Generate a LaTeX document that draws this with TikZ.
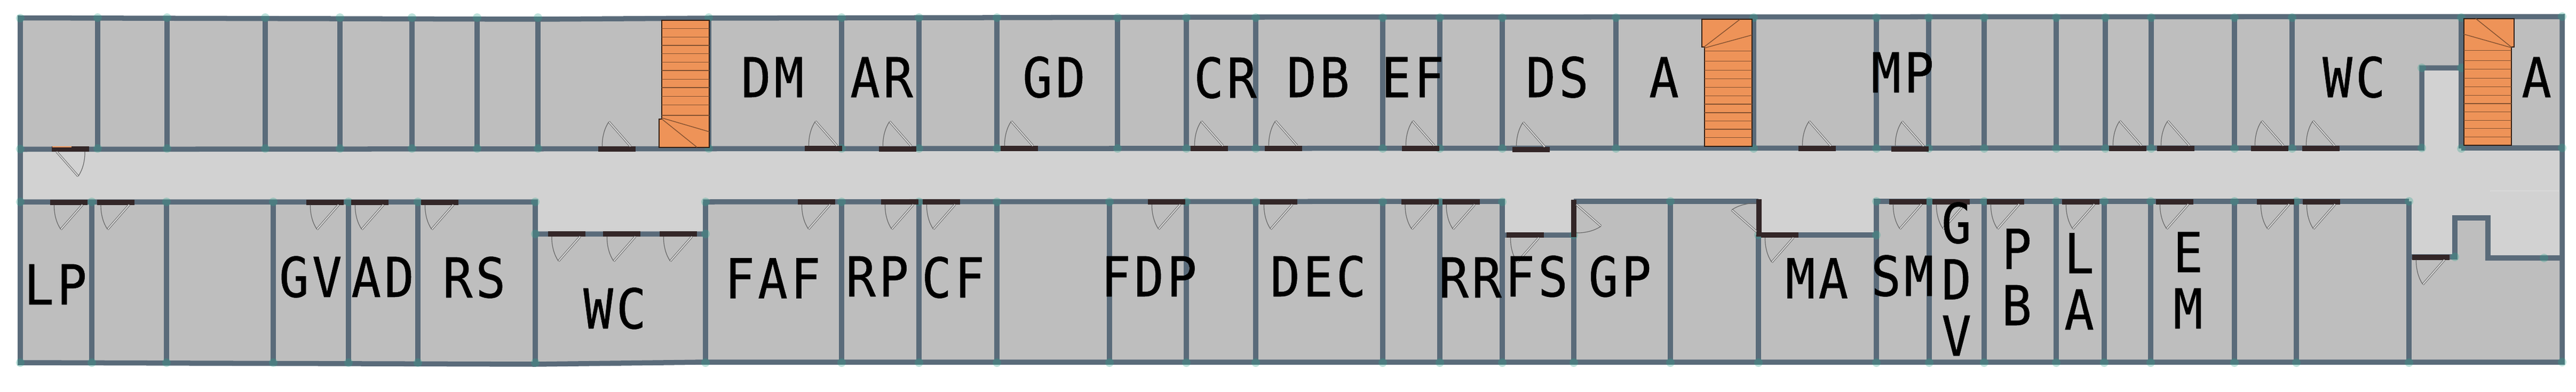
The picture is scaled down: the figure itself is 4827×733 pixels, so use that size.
\documentclass[tikz,border=0pt]{standalone}
\usepackage{fontspec}
\newfontfamily\roomfont[FakeStretch=0.9,LetterSpace=5.8,FakeBold=0.5]{DejaVu Sans Mono}
\definecolor{roomgrey}{HTML}{BEBEBE}
\definecolor{hallgrey}{HTML}{D2D2D2}
\definecolor{wallblue}{HTML}{5A6B7A}
\definecolor{stairorange}{HTML}{EE9358}
\definecolor{doorblack}{HTML}{332627}
\definecolor{handleteal}{HTML}{2EA58F}
\tikzset{
    wall/.style={wallblue, line width=0.095cm},
    handle/.style={handleteal, opacity=0.3},
    stairs/.style={draw=black!80!stairorange, fill=stairorange, line width=0.02cm},
    tread/.style={draw=black!45!stairorange, line width=0.014cm},
    room/.style={font=\roomfont\fontsize{29.3}{29.6}\selectfont, inner sep=0pt, anchor=base, align=center},
    pics/door/.style={code={
        \fill[doorblack] (-35,-5) rectangle (35,5);
        \draw[draw=black!60, line width=0.01cm, double=black!15, double distance=0.02cm] (25.5,-5) -- (-15,-51);
        \draw[black!60, line width=0.012cm] (-15,-51) .. controls (-23,-40) and (-28,-22) .. (-27.5,-5);
    }},
}

\begin{document}
\begin{tikzpicture}[x=0.01cm, y=-0.01cm]
    \useasboundingbox (0,0) rectangle (4827,733);

    % Floors
    \fill[roomgrey] (38,33) -- (1008,36) -- (1328,34) -- (2353,32) -- (4801,31) -- (4801,678) -- (1322,678) -- (1003,682) -- (38,679) -- cycle;
    \fill[hallgrey] (38,279) -- (1328,278) -- (4538,277) -- (4538,127) -- (4612,127) -- (4612,277) -- (4801,277)
        -- (4801,483) -- (4662,483) -- (4662,408) -- (4600,408) -- (4600,481) -- (4514,481) -- (4514,377)
        -- (3516,377) -- (3516,440) -- (3295,440) -- (3295,377) -- (2949,377) -- (2949,440) -- (2815,440) -- (2815,377)
        -- (1322,378) -- (1322,438) -- (1003,438) -- (1003,378) -- (38,378) -- cycle;
    \draw[black!12, line width=0.01cm] (4666,357) -- (4795,357);

    % Long walls
    \draw[wall, line cap=rect] (38,33.5) -- (1008,36) -- (1328,34) -- (2353,32) -- (4801,31) -- (4801,678) -- (1322,678) -- (1003,682) -- (38,679) -- cycle;
    \draw[wall] (38,279.5) -- (1328,278.5) -- (2815,277.5) -- (4538,277) -- (4538,127) -- (4612,127);
    \draw[wall] (4612,277) -- (4801,277);
    \draw[wall] (38,378) -- (1003,378) -- (1003,438) -- (1322,438) -- (1322,378) -- (2815,377) -- (2815,440) -- (2949,440);
    \draw[wall] (2949,377) -- (3295,377);
    \draw[wall] (3295,440) -- (3516,440) -- (3516,377) -- (4514,377);
    \draw[wall] (4514,481) -- (4600,481) -- (4600,408) -- (4662,408) -- (4662,483) -- (4801,483);

    % Cross walls, top row
    \foreach \x in {183,313,497,637,772,894,1008,1328,1577,1722,1868,2094,2223,2353,2591,2698,2815,3028,3286,3516,3614,3718,3853,3945,4031,4187,4295,4612} {
        \draw[wall] (\x,33) -- (\x,278);
        \fill[handle] (\x,33) circle (8);
        \fill[handle] (\x,278) circle (8);
    }

    % Cross walls, bottom row
    \foreach \x/\y in {172/378,312/378,512/378,653/378,783/378,1003/378,1322/378,1577/378,1722/378,1868/378,2079/378,2223/378,2353/378,2591/378,2698/378,2815/378,2949/440,3130/377,3295/440,3516/377,3615/377,3718/377,3853/377,3943/377,4030/377,4187/377,4303/377,4514/377} {
        \draw[wall] (\x,\y) -- (\x,679);
        \fill[handle] (\x,\y) circle (8);
        \fill[handle] (\x,679) circle (8);
    }

    % Wall corners
    \foreach \p in {(38,34),(38,279),(38,378),(38,679),(4801,31),(4801,277),(4801,678),(4538,127),(4612,127),(4538,277),(4600,481),(1003,438),(1322,438),(3516,440),(4767,483)} {
        \fill[handle] \p circle (8);
    }

    % Stairs, left
    \draw[stairs] (1239.5,38) -- (1329,38) -- (1329,275.7) -- (1235,275.7) -- (1235,222.7) -- (1239.5,222.7) -- cycle;
    \foreach \y in {53.7,69.3,85,100.7,116.3,132,148.3,164,180.3,196.7,216} {
        \draw[tread] (1239.5,\y) -- (1329,\y);
    }
    \draw[tread] (1240,220.7) -- (1329,246.7);
    \draw[tread] (1240,222.7) -- (1306,275.7);

    % Stairs, middle
    \draw[stairs] (3188.6,36) -- (3283,36) -- (3283,273.5) -- (3193.5,273.5) -- (3193.5,88) -- (3188.6,88) -- cycle;
    \foreach \y in {95.4,114.5,131.4,147.7,163.6,179.5,195,210.8,226.7,242,257.6} {
        \draw[tread] (3193.5,\y) -- (3283,\y);
    }
    \draw[tread] (3193.5,90) -- (3283,65.5);
    \draw[tread] (3193,88) -- (3260,36.5);

    % Stairs, right
    \draw[stairs] (4616.7,34.7) -- (4710.7,34.7) -- (4710.7,87.7) -- (4706,87.7) -- (4706,272.3) -- (4616.7,272.3) -- cycle;
    \foreach \y in {94.3,113.7,129.7,146.3,162.3,178.3,194,209.7,225.7,240.7,256.3} {
        \draw[tread] (4616.7,\y) -- (4706,\y);
    }
    \draw[tread] (4616.7,64) -- (4706,89.3);
    \draw[tread] (4706,88.3) -- (4639,34.7);

    % Doors opening upwards
    \foreach \x/\y in {1156/279,1543/278,1682/278.5,1910/278,2266/278,2405/277.5,2662/277.5,2869/280,3405/278,3579/278.5,3987/277.5,4077/277.5,4253/277.5,4349/277.5} {
        \pic at (\x,\y) {door};
    }

    % Doors opening downwards
    \foreach \x/\y in {129/378.5,216.6/378.5,609/378.5,693/378.5,824/378.5,1530/378,1686/378,1764/378,2186/378,2396/378,2660.5/378,2737.7/378,3575/377.5,3656/377.5,3758/377.5,3899/377.5,4075/377.5,4264/377.5,4350/377.5,1061.5/438,1165/438,1271/438,2858/440,3335/440,4555/481.5} {
        \pic[yscale=-1] at (\x,\y) {door};
    }

    % Odd doors
    \pic[rotate=180] at (131.5,279) {door};
    \fill[stairorange] (98,274) rectangle (134,275.5);
    \pic[rotate=90, yscale=-1] at (2949,408.5) {door};
    \pic[rotate=-90, yscale=-1] at (3296,408) {door};

    % Top row labels
    \node[room] (dm) at (1447.5,182) {DM};
    \node[room] (ar) at (1652,182) {AR};
    \node[room] (gd) at (1975,182) {GD};
    \node[room] (cr) at (2296,183) {CR};
    \node[room] (db) at (2470,182) {DB};
    \node[room] (ef) at (2647,182) {EF};
    \node[room] (ds) at (2918,182) {DS};
    \node[room] (amid) at (3118,182) {A};
    \node[room] (mp) at (3565,173) {MP};
    \node[room] (wctop) at (4411,182) {WC};
    \node[room] (aend) at (4753,182) {A};

    % Bottom row labels
    \node[room] (lp) at (104,570) {LP};
    \node[room] (gv) at (582,556) {GV};
    \node[room] (ad) at (717,556) {AD};
    \node[room] (rs) at (888.5,557) {RS};
    \node[room] (wcbot) at (1152,615) {WC};
    \node[room] (faf) at (1448,558.6) {FAF};
    \node[room] (rp) at (1644,555) {RP};
    \node[room] (cf) at (1786,557) {CF};
    \node[room] (fdp) at (2153,555) {FDP};
    \node[room] (dec) at (2470,555) {DEC};
    \node[room] (rr) at (2755,557) {RR};
    \node[room] (fs) at (2879,555) {FS};
    \node[room] (gp) at (3035.5,555) {GP};
    \node[room] (ma) at (3404.5,558.6) {MA};
    \node[room] (sm) at (3565,554) {SM};
    \node[room] (gdv) at (3666,666) {G\\[0.4pt]D\\[0.4pt]V};
    \node[room] (pb) at (3779,609) {P\\[0.4pt]B};
    \node[room] (la) at (3896,617) {L\\[0.4pt]A};
    \node[room] (em) at (4100,615) {E\\[0.4pt]M};
\end{tikzpicture}
\end{document}
